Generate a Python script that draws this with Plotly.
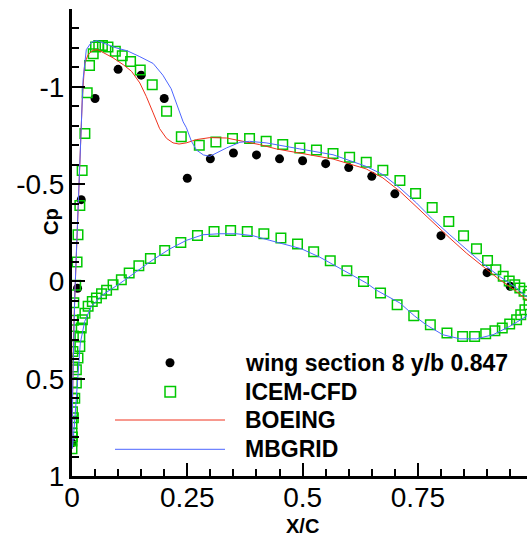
import plotly.graph_objects as go

# ---------------- data ----------------
exp_x = [0.000, 0.012, 0.020, 0.050, 0.100, 0.150, 0.200, 0.250, 0.300, 0.350,
         0.400, 0.450, 0.500, 0.550, 0.600, 0.650, 0.700, 0.800, 0.900, 0.950]
exp_cp = [0.83, 0.035, -0.42, -0.94, -1.09, -1.06, -0.94, -0.53, -0.63, -0.66,
          -0.65, -0.63, -0.62, -0.605, -0.585, -0.54, -0.45, -0.235, -0.045, 0.025]

icem_up_x = [0.000, 0.000, 0.000, 0.000, 0.001, 0.001, 0.001, 0.002, 0.002, 0.003,
             0.003, 0.004, 0.008, 0.011, 0.013, 0.017, 0.022, 0.028, 0.033, 0.038,
             0.046, 0.051, 0.058, 0.066, 0.078, 0.094, 0.109, 0.127, 0.148, 0.174,
             0.205, 0.237, 0.276, 0.312, 0.348, 0.385, 0.421, 0.457, 0.494, 0.530,
             0.566, 0.602, 0.638, 0.674, 0.711, 0.745, 0.781, 0.817, 0.849, 0.877,
             0.901, 0.919, 0.935, 0.948, 0.960, 0.971, 0.980, 0.989, 1.000]
icem_up_cp = [0.86, 0.82, 0.78, 0.73, 0.67, 0.60, 0.52, 0.44, 0.36, 0.28,
              0.20, 0.11, 0.02, -0.10, -0.24, -0.39, -0.57, -0.76, -0.97, -1.11,
              -1.17, -1.205, -1.213, -1.213, -1.205, -1.183, -1.16, -1.13, -1.087, -1.011,
              -0.874, -0.744, -0.70, -0.717, -0.735, -0.735, -0.72, -0.703, -0.686, -0.675,
              -0.657, -0.638, -0.612, -0.571, -0.518, -0.452, -0.38, -0.308, -0.235, -0.168,
              -0.108, -0.06, -0.026, -0.002, 0.017, 0.034, 0.051, 0.068, 0.085]

icem_lo_x = [0.001, 0.003, 0.006, 0.0095, 0.0095, 0.013, 0.017, 0.017, 0.020, 0.0225,
             0.028, 0.035, 0.044, 0.053, 0.064, 0.075, 0.089, 0.107, 0.124, 0.145,
             0.170, 0.201, 0.236, 0.272, 0.308, 0.344, 0.380, 0.416, 0.453, 0.489,
             0.524, 0.560, 0.596, 0.632, 0.669, 0.705, 0.741, 0.777, 0.813, 0.847,
             0.873, 0.897, 0.917, 0.933, 0.949, 0.964, 0.973, 0.982, 0.991, 1.000]
icem_lo_cp = [0.80, 0.70, 0.60, 0.522, 0.454, 0.394, 0.334, 0.283, 0.24, 0.197,
              0.163, 0.128, 0.103, 0.085, 0.063, 0.046, 0.017, -0.009, -0.043, -0.081,
              -0.118, -0.159, -0.20, -0.236, -0.256, -0.262, -0.257, -0.245, -0.223, -0.192,
              -0.153, -0.106, -0.055, 0.0, 0.06, 0.12, 0.176, 0.223, 0.265, 0.283,
              0.283, 0.269, 0.253, 0.24, 0.219, 0.197, 0.171, 0.145, 0.12, 0.10]

boeing_x = [0.000, 0.001, 0.003, 0.006, 0.009, 0.012, 0.015, 0.018, 0.0225, 0.0275,
            0.035, 0.0455, 0.056, 0.067, 0.089, 0.111, 0.129, 0.147, 0.161, 0.176,
            0.190, 0.205, 0.219, 0.232, 0.248, 0.270, 0.299, 0.335, 0.371, 0.407,
            0.443, 0.494, 0.566, 0.638, 0.674, 0.711, 0.747, 0.783, 0.819, 0.855,
            0.891, 0.927, 0.964, 0.985, 1.000]
boeing_cp = [0.86, 0.60, 0.30, 0.08, -0.12, -0.32, -0.50, -0.68, -0.95, -1.12,
             -1.166, -1.188, -1.191, -1.177, -1.149, -1.114, -1.08, -1.02, -0.951, -0.866,
             -0.785, -0.735, -0.712, -0.706, -0.712, -0.729, -0.739, -0.737, -0.72, -0.703,
             -0.681, -0.66, -0.629, -0.578, -0.532, -0.463, -0.383, -0.30, -0.223, -0.146,
             -0.077, -0.009, 0.051, 0.094, 0.11]

mbgrid_up_x = [0.000, 0.001, 0.003, 0.006, 0.009, 0.012, 0.015, 0.019, 0.024, 0.031,
               0.042, 0.054, 0.067, 0.096, 0.120, 0.147, 0.176, 0.197, 0.215, 0.223,
               0.233, 0.241, 0.248, 0.259, 0.270, 0.285, 0.299, 0.335, 0.364, 0.385,
               0.421, 0.458, 0.494, 0.566, 0.638, 0.674, 0.711, 0.747, 0.783, 0.819,
               0.855, 0.891, 0.927, 0.964, 0.985, 1.000]
mbgrid_up_cp = [0.86, 0.60, 0.32, 0.08, -0.12, -0.32, -0.52, -0.76, -1.037, -1.191,
                -1.229, -1.238, -1.229, -1.20, -1.185, -1.155, -1.12, -1.06, -0.99, -0.94,
                -0.874, -0.82, -0.79, -0.72, -0.675, -0.65, -0.643, -0.686, -0.715, -0.72,
                -0.712, -0.698, -0.681, -0.651, -0.591, -0.549, -0.48, -0.403, -0.317, -0.24,
                -0.163, -0.091, -0.026, 0.034, 0.077, 0.10]

mbgrid_lo_x = [0.000, 0.002, 0.006, 0.0095, 0.013, 0.018, 0.0275, 0.042, 0.067, 0.103,
               0.140, 0.176, 0.212, 0.248, 0.284, 0.320, 0.356, 0.392, 0.429, 0.465,
               0.497, 0.537, 0.566, 0.638, 0.660, 0.711, 0.743, 0.768, 0.804, 0.841,
               0.877, 0.913, 0.949, 0.985, 1.000]
mbgrid_lo_cp = [0.86, 0.831, 0.711, 0.591, 0.454, 0.317, 0.206, 0.128, 0.068, 0.012,
                -0.051, -0.112, -0.167, -0.211, -0.24, -0.245, -0.245, -0.235, -0.211, -0.189,
                -0.168, -0.125, -0.086, 0.008, 0.045, 0.111, 0.178, 0.223, 0.274, 0.295,
                0.295, 0.274, 0.231, 0.18, 0.12]

x_tick_vals = [0, 0.25, 0.5, 0.75, 1]
x_tick_text = ["0", "0.25", "0.5", "0.75", "1"]
y_tick_vals = [-1, -0.5, 0, 0.5, 1]
y_tick_text = ["-1", "-0.5", "0", "0.5", "1"]

legend_names = ["wing section 8 y/b 0.847", "ICEM-CFD", "BOEING", "MBGRID"]

# ---------------- styles / layout ----------------
W, H = 527, 539
L, R, T, B = 72, 0, 9, 63
PW, PH = W - L - R, H - T - B
XMAX = PW / 461.2

RED = "#f0321e"
BLUE = "#4d66ff"
GREEN = "#00c800"
FONT = "Liberation Sans, Arial, sans-serif"


def pxx(p):
    return (p - L) / PW


def pxy(p):
    return (H - B - p) / PH


fig = go.Figure()
fig.add_trace(go.Scatter(x=exp_x, y=exp_cp, mode="markers",
                         marker=dict(symbol="circle", size=9, color="black"),
                         showlegend=False))
fig.add_trace(go.Scatter(x=icem_up_x + icem_lo_x, y=icem_up_cp + icem_lo_cp, mode="markers",
                         marker=dict(symbol="square-open", size=9.5, color=GREEN,
                                     line=dict(width=1.5, color=GREEN)),
                         showlegend=False))
fig.add_trace(go.Scatter(x=boeing_x, y=boeing_cp, mode="lines",
                         line=dict(color=RED, width=1), showlegend=False))
fig.add_trace(go.Scatter(x=mbgrid_up_x[::-1] + mbgrid_lo_x, y=mbgrid_up_cp[::-1] + mbgrid_lo_cp,
                         mode="lines", line=dict(color=BLUE, width=1), showlegend=False))

axis_common = dict(showgrid=False, zeroline=False, showline=True, linewidth=3,
                   linecolor="black", ticks="inside", ticklen=13, tickwidth=2,
                   tickcolor="black", tickfont=dict(family=FONT, size=28, color="black"))

fig.update_xaxes(range=[0, XMAX], tickmode="array", tickvals=x_tick_vals,
                 ticktext=x_tick_text, ticklabelstandoff=-6,
                 minor=dict(ticks="inside", ticklen=7, tickwidth=1.5, tickcolor="black",
                            dtick=0.05, tick0=0, showgrid=False),
                 **axis_common)
fig.update_yaxes(range=[1.0, -1.4], tickmode="array", tickvals=y_tick_vals,
                 ticktext=y_tick_text, ticklabelstandoff=-1,
                 minor=dict(ticks="inside", ticklen=7, tickwidth=1.5, tickcolor="black",
                            dtick=0.1, tick0=0, showgrid=False),
                 **axis_common)

annotations = [
    dict(text="<b>X/C</b>", x=pxx(302), y=pxy(526), xref="paper", yref="paper",
         showarrow=False, xanchor="center", yanchor="middle",
         font=dict(family=FONT, size=20, color="black")),
    dict(text="<b>Cp</b>", x=pxx(51), y=pxy(222), xref="paper", yref="paper",
         showarrow=False, xanchor="center", yanchor="middle", textangle=-90,
         font=dict(family=FONT, size=20, color="black")),
]
rows_y = [362.7, 391.7, 420.0, 449.3]
for name, ry in zip(legend_names, rows_y):
    annotations.append(dict(text="<b>%s</b>" % name, x=pxx(243), y=pxy(ry),
                            xref="paper", yref="paper", showarrow=False,
                            xanchor="left", yanchor="middle",
                            font=dict(family=FONT, size=23, color="black")))

shapes = [
    dict(type="circle", xref="paper", yref="paper", x0=pxx(165.5), x1=pxx(174.5),
         y0=pxy(367.2), y1=pxy(358.2), fillcolor="black", line=dict(width=0)),
    dict(type="rect", xref="paper", yref="paper", x0=pxx(165), x1=pxx(175.5),
         y0=pxy(397), y1=pxy(386.5), line=dict(color=GREEN, width=1.5)),
    dict(type="line", xref="paper", yref="paper", x0=pxx(115), x1=pxx(225),
         y0=pxy(420), y1=pxy(420), line=dict(color=RED, width=1)),
    dict(type="line", xref="paper", yref="paper", x0=pxx(115), x1=pxx(225),
         y0=pxy(449.3), y1=pxy(449.3), line=dict(color=BLUE, width=1)),
]

fig.update_layout(width=W, height=H, margin=dict(l=L, r=R, t=T, b=B),
                  paper_bgcolor="white", plot_bgcolor="white",
                  annotations=annotations, shapes=shapes, showlegend=False)

fig.write_html("out.html")
